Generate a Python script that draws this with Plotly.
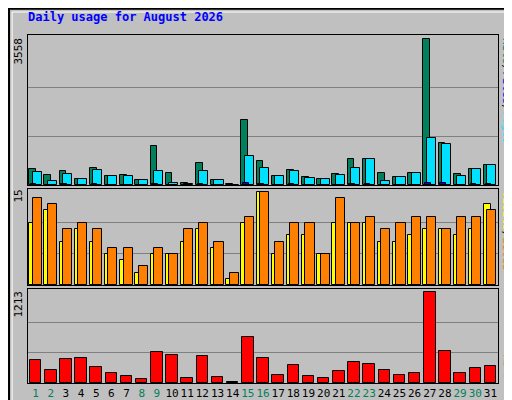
import plotly.graph_objects as go
from plotly.subplots import make_subplots

days = list(range(1, 32))
weekend = [1, 2, 8, 9, 15, 16, 22, 23, 29, 30]

hits = [387, 242, 339, 145, 411, 218, 242, 121, 944, 290, 48, 532, 121, 24, 1597, 581,
        218, 363, 194, 145, 266, 629, 629, 290, 194, 290, 3558, 1016, 266, 387, 484]
files = [315, 97, 266, 145, 363, 218, 218, 121, 339, 48, 24, 339, 121, 5, 702, 411,
         218, 339, 169, 145, 242, 411, 629, 97, 194, 290, 1137, 992, 218, 387, 484]
pages = [20, 10, 15, 8, 20, 10, 10, 6, 25, 12, 3, 15, 6, 2, 40, 20,
         10, 15, 8, 6, 12, 20, 25, 10, 8, 12, 60, 40, 10, 15, 20]
visits = [14, 13, 9, 10, 9, 6, 6, 3, 6, 5, 9, 10, 7, 2, 11, 15,
          7, 10, 10, 5, 14, 10, 11, 9, 10, 11, 11, 9, 11, 11, 12]
sites = [10, 12, 7, 9, 7, 5, 4, 2, 5, 5, 7, 9, 6, 1, 10, 15,
         5, 8, 8, 5, 10, 10, 10, 7, 7, 8, 9, 9, 8, 9, 13]
kbytes = [310, 177, 323, 337, 217, 137, 97, 58, 416, 377, 71, 363, 84, 18, 616, 337,
          111, 244, 97, 71, 164, 284, 257, 177, 111, 137, 1213, 430, 137, 204, 230]

mono = "DejaVu Sans Mono"
bg = "#C0C0C0"

fig = make_subplots(rows=3, cols=1, shared_xaxes=True)

def bar(x, y, color, off, w, row):
    fig.add_trace(go.Bar(x=x, y=y, marker=dict(color=color, line=dict(color="black", width=1)),
                         offset=off, width=w, showlegend=False, hoverinfo="skip"), row=row, col=1)

bar(days, hits, "#00805C", -0.42, 0.45, 1)
bar(days, files, "#00E0FF", -0.2, 0.6, 1)
bar(days, pages, "#0000FF", -0.3, 0.35, 1)
bar(days, sites, "#FFFF00", -0.42, 0.45, 2)
bar(days, visits, "#FF8000", -0.2, 0.6, 2)
bar(days, kbytes, "#FF0000", -0.38, 0.76, 3)

fig.update_layout(width=512, height=400, margin=dict(l=0, r=0, t=0, b=0, autoexpand=False),
                  paper_bgcolor=bg, plot_bgcolor=bg, barmode="overlay", bargap=0)

ticktext = ['<span style="color:#00805C">%d</span>' % d if d in weekend else str(d) for d in days]
doms = [[1 - 177 / 400, 1 - 27 / 400], [1 - 277 / 400, 1 - 181 / 400], [1 - 375 / 400, 1 - 281 / 400]]
for r in [1, 2, 3]:
    fig.update_xaxes(row=r, col=1, domain=[20 / 512, 490 / 512], range=[0.5, 31.5],
                     showline=True, mirror=True, linecolor="black", linewidth=1, automargin=False,
                     showgrid=False, ticks="", tickvals=days, ticktext=ticktext, tickangle=0,
                     showticklabels=(r == 3), tickfont=dict(family=mono, size=11, color="black"))
for r, dom, mx in zip([1, 2, 3], doms, [max(hits), max(visits), max(kbytes)]):
    fig.update_yaxes(row=r, col=1, domain=dom, range=[0, mx * 1.03], automargin=False,
                     tickvals=[mx / 3, 2 * mx / 3], showticklabels=False, gridcolor="#808080",
                     showline=True, mirror=True, linecolor="black", linewidth=1, zeroline=False)

fig.add_annotation(x=18 / 512, y=1 - 9 / 400, xref="paper", yref="paper", xanchor="left", yanchor="middle",
                   text="<b>Daily usage for August 2026</b>", showarrow=False,
                   font=dict(family=mono, size=12, color="#0000FF"))
for txt, ytop in [(str(max(hits)), 28), (str(max(visits)), 180), (str(max(kbytes)), 281)]:
    fig.add_annotation(x=10 / 512, y=1 - ytop / 400, xref="paper", yref="paper", xanchor="center", yanchor="top",
                       text=txt, textangle=-90, showarrow=False, font=dict(family=mono, size=11, color="black"))

fig.add_annotation(x=499 / 512, y=1 - 28 / 400, xref="paper", yref="paper", xanchor="center", yanchor="top",
                   textangle=90, showarrow=False, font=dict(family=mono, size=11),
                   text='<span style="color:#00805C">Hits</span><span style="color:black">/</span>'
                        '<span style="color:#0000FF">Files</span><span style="color:black">/</span>'
                        '<span style="color:#00E0FF">Pages</span>')
fig.add_annotation(x=499 / 512, y=1 - 181 / 400, xref="paper", yref="paper", xanchor="center", yanchor="top",
                   textangle=90, showarrow=False, font=dict(family=mono, size=11),
                   text='<span style="color:#FFFF00">Visits</span><span style="color:black">/</span>'
                        '<span style="color:#FF8000">Sites</span>')
fig.add_annotation(x=499 / 512, y=1 - 375 / 400, xref="paper", yref="paper", xanchor="center", yanchor="bottom",
                   textangle=90, showarrow=False, font=dict(family=mono, size=11, color="#FF0000"), text="KB F")

fig.add_shape(type="rect", xref="paper", yref="paper", x0=0.002, y0=0.002, x1=0.998, y1=0.998,
              line=dict(color="black", width=2))
fig.add_shape(type="rect", xref="paper", yref="paper", x0=0.008, y0=0.008, x1=0.99, y1=0.99,
              line=dict(color="white", width=1))

fig.write_html("out.html")
